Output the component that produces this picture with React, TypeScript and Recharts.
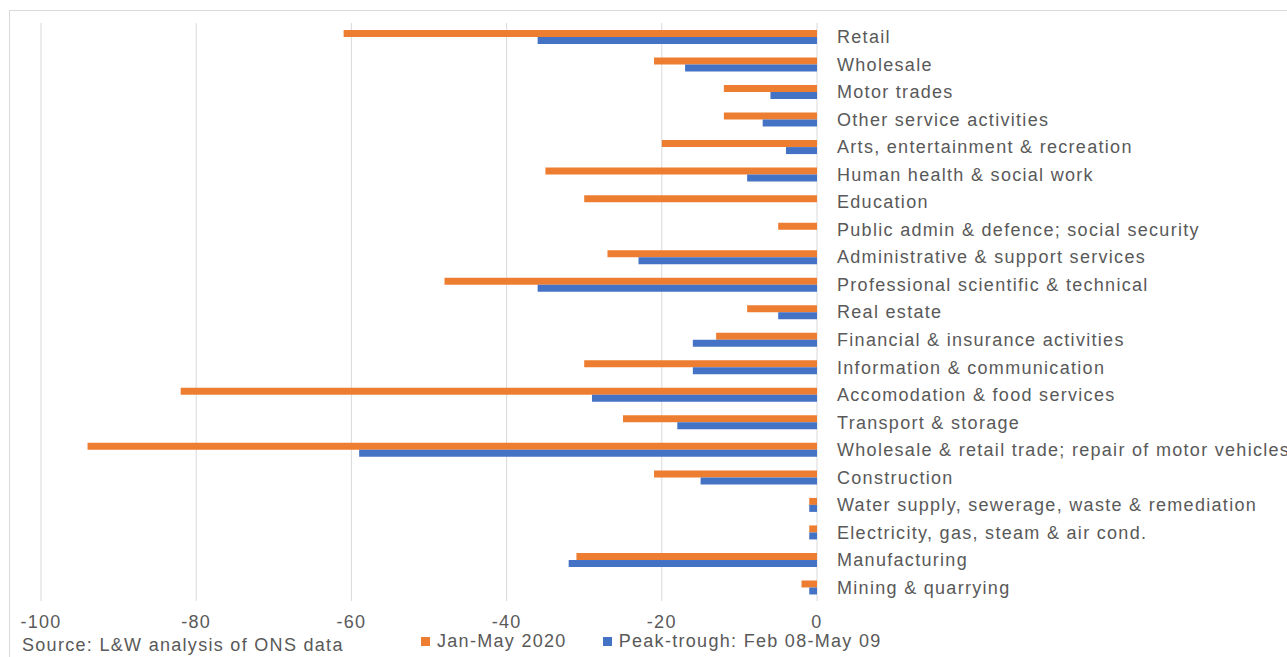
import React from "react";
import {
  BarChart,
  Bar,
  XAxis,
  YAxis,
  CartesianGrid,
  Legend
} from "recharts";

const sectors = [
  "Retail",
  "Wholesale",
  "Motor trades",
  "Other service activities",
  "Arts, entertainment & recreation",
  "Human health & social work",
  "Education",
  "Public admin & defence; social security",
  "Administrative & support services",
  "Professional scientific & technical",
  "Real estate",
  "Financial & insurance activities",
  "Information & communication",
  "Accomodation & food services",
  "Transport & storage",
  "Wholesale & retail trade; repair of motor vehicles",
  "Construction",
  "Water supply, sewerage, waste & remediation",
  "Electricity, gas, steam & air cond.",
  "Manufacturing",
  "Mining & quarrying"
];

const janMay2020 = [-61, -21, -12, -12, -20, -35, -30, -5, -27, -48, -9, -13, -30, -82, -25, -94, -21, -1, -1, -31, -2];
const peakTrough = [-36, -17, -6, -7, -4, -9, 0, 0, -23, -36, -5, -16, -16, -29, -18, -59, -15, -1, -1, -32, -1];

const xTicks = [-100, -80, -60, -40, -20, 0];

const ORANGE = "#ED7D31";
const BLUE = "#4472C4";
const TEXT = "#595959";
const GRID = "#d9d9d9";

const rows = sectors.map((name, i) => ({
  name,
  jan: janMay2020[i],
  peak: peakTrough[i]
}));

// plain tick so long sector names never wrap
const SectorTick = ({ x, y, payload }: any) => (
  <text x={x} y={y} dy="0.36em" textAnchor="start" fill={TEXT} fontSize={18}>
    {payload.value}
  </text>
);

const LegendContent = ({ payload }: any) => (
  <div style={{ display: "flex", alignItems: "center" }}>
    {(payload || []).map((p: any, i: number) => (
      <div
        key={`leg-${i}`}
        style={{ display: "flex", alignItems: "center", marginRight: i === 0 ? 36 : 0 }}
      >
        <span style={{ width: 9, height: 9, background: p.color, display: "inline-block", marginRight: 7 }} />
        <span style={{ color: TEXT, fontSize: 18, whiteSpace: "nowrap" }}>{p.value}</span>
      </div>
    ))}
  </div>
);

export default function App() {
  return (
    <div
      style={{
        position: "absolute",
        left: 0,
        top: 0,
        width: 1287,
        height: 657,
        overflow: "hidden",
        background: "#fff",
        fontFamily: "'Liberation Sans', Arial, sans-serif",
        letterSpacing: "1.3px",
        color: TEXT
      }}
    >
      <div
        style={{
          position: "absolute",
          left: 9,
          top: 10,
          width: 1400,
          height: 800,
          border: `1px solid ${GRID}`
        }}
      />
      <div style={{ position: "absolute", left: 0, top: 0 }}>
        <BarChart
          width={1287}
          height={657}
          data={rows}
          layout="vertical"
          barGap={0}
          margin={{ top: 23, right: 0, bottom: 0, left: 41 }}
        >
          <CartesianGrid horizontal={false} stroke={GRID} />
          <XAxis
            type="number"
            domain={[-100, 0]}
            ticks={xTicks}
            height={56}
            axisLine={false}
            tickLine={false}
            tickMargin={8}
            tick={{ fill: TEXT, fontSize: 18 }}
          />
          <YAxis
            type="category"
            dataKey="name"
            orientation="right"
            width={470}
            interval={0}
            axisLine={false}
            tickLine={false}
            tickMargin={14}
            tick={<SectorTick />}
          />
          <Legend
            layout="horizontal"
            verticalAlign="middle"
            align="center"
            content={<LegendContent />}
            wrapperStyle={{ left: 421, top: 631, width: 520 }}
          />
          <Bar dataKey="jan" name="Jan-May 2020" fill={ORANGE} barSize={7} isAnimationActive={false} />
          <Bar dataKey="peak" name="Peak-trough: Feb 08-May 09" fill={BLUE} barSize={7} isAnimationActive={false} />
        </BarChart>
      </div>
      <div style={{ position: "absolute", left: 22, top: 635, fontSize: 18, whiteSpace: "nowrap" }}>
        Source: L&amp;W analysis of ONS data
      </div>
    </div>
  );
}
